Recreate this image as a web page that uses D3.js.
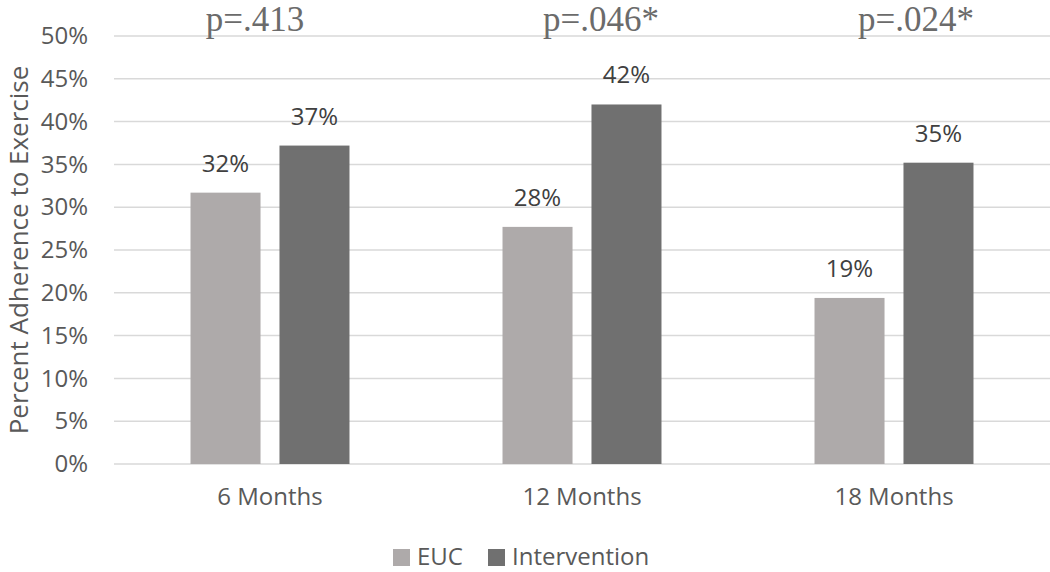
<!DOCTYPE html>
<html><head><meta charset="utf-8">
<script src="https://cdn.jsdelivr.net/npm/d3@7"></script>
<style>body{margin:0;background:#fff}svg{display:block}</style>
</head><body>
<svg id="chart" width="1050" height="572"></svg>
<script>
const categories = ["6 Months", "12 Months", "18 Months"];
const seriesNames = ["EUC", "Intervention"];
const eucValues = [0.317, 0.277, 0.194];
const interventionValues = [0.372, 0.420, 0.352];
const valueLabels = [["32%", "37%"], ["28%", "42%"], ["19%", "35%"]];
const pValues = ["p=.413", "p=.046*", "p=.024*"];
const yTicks = [0, 0.05, 0.10, 0.15, 0.20, 0.25, 0.30, 0.35, 0.40, 0.45, 0.50];
const colors = ["#AEAAAA", "#707070"];

const svg = d3.select("#chart");
const margin = {left: 114, right: 0};
const W = 1050, H = 572;
const x = d3.scaleBand().domain(categories).range([margin.left, W - margin.right]);
const y = d3.scaleLinear().domain([0, 0.5]).range([464, 36]);
const inner = d3.scaleBand().domain(seriesNames).range([0, x.bandwidth()]).paddingInner(0.213).paddingOuter(0.86);

const font = "'Open Sans', 'Noto Sans', sans-serif";

// gridlines
svg.append("g").selectAll("line").data(yTicks).join("line")
  .attr("x1", margin.left).attr("x2", W).attr("y1", d => y(d)).attr("y2", d => y(d))
  .attr("stroke", "#D9D9D9").attr("stroke-width", 1.5);

// y axis labels
const yAxis = d3.axisLeft(y).tickValues(yTicks).tickFormat(d3.format(".0%")).tickSize(0).tickPadding(26);
const gy = svg.append("g").attr("transform", `translate(${margin.left},0)`).call(yAxis);
gy.select(".domain").remove();
gy.selectAll("text").attr("font-family", font).attr("font-size", 24).attr("fill", "#595959");

// x axis labels
const xAxis = d3.axisBottom(x).tickSize(0).tickPadding(24);
const gx = svg.append("g").attr("transform", `translate(0,${y(0)})`).call(xAxis);
gx.select(".domain").remove();
gx.selectAll("text").attr("font-family", font).attr("font-size", 24).attr("fill", "#595959");

// bars
const data = categories.map((c, i) => ({cat: c, vals: [eucValues[i], interventionValues[i]], labels: valueLabels[i]}));
const groups = svg.append("g").selectAll("g").data(data).join("g")
  .attr("transform", d => `translate(${x(d.cat)},0)`);
groups.selectAll("rect").data(d => d.vals.map((v, j) => ({s: seriesNames[j], v, j}))).join("rect")
  .attr("x", d => inner(d.s)).attr("width", inner.bandwidth())
  .attr("y", d => y(d.v)).attr("height", d => y(0) - y(d.v))
  .attr("fill", d => colors[d.j]);
groups.selectAll("text.val").data(d => d.vals.map((v, j) => ({s: seriesNames[j], v, j, l: d.labels[j]}))).join("text")
  .attr("class", "val")
  .attr("x", d => inner(d.s) + inner.bandwidth() / 2).attr("y", d => y(d.v) - 21)
  .attr("text-anchor", "middle").attr("font-family", font).attr("font-size", 24).attr("fill", "#404040")
  .text(d => d.l);

// p-values
const pOffsets = [-15, 19, 22];
svg.append("g").selectAll("text").data(pValues).join("text")
  .attr("x", (d, i) => x(categories[i]) + x.bandwidth() / 2 + pOffsets[i])
  .attr("y", 31).attr("text-anchor", "middle")
  .attr("font-family", "'Liberation Serif', 'DejaVu Serif', serif").attr("font-size", 35).attr("fill", "#6B6B6B")
  .text(d => d);

// y axis title
svg.append("text")
  .attr("transform", `translate(28,${(y(0) + y(0.5)) / 2 + 0}) rotate(-90)`)
  .attr("text-anchor", "middle").attr("font-family", font).attr("font-size", 26).attr("fill", "#595959")
  .text("Percent Adherence to Exercise");

// legend
const legend = svg.append("g").attr("transform", "translate(393,0)");
const lx = [0, 95];
const li = legend.selectAll("g").data(seriesNames).join("g").attr("transform", (d, i) => `translate(${lx[i]},0)`);
li.append("rect").attr("x", 0).attr("y", 549).attr("width", 17).attr("height", 17).attr("fill", (d, i) => colors[i]);
li.append("text").attr("x", 24).attr("y", 565).attr("font-family", font).attr("font-size", 24).attr("fill", "#595959").text(d => d);
</script>
</body></html>
